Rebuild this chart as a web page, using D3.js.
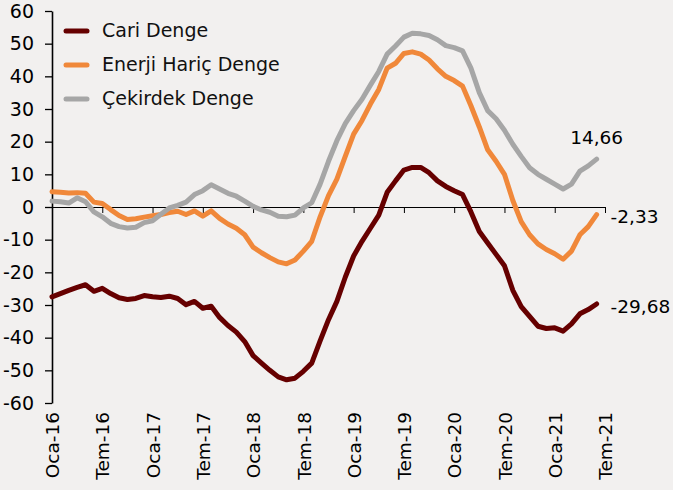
<!DOCTYPE html>
<html>
<head>
<meta charset="utf-8">
<script src="https://cdn.jsdelivr.net/npm/d3@7"></script>
<style>
  html, body { margin: 0; padding: 0; background: #f2f0ef; }
  svg { display: block; font-family: "DejaVu Sans", sans-serif; }
  .axis path, .axis line { stroke: #000; }
  .axis text { fill: #000; font-family: "DejaVu Sans", sans-serif; }
</style>
</head>
<body>
<svg id="grafik" width="673" height="490"></svg>
<script>
// aylik veri: Oca-16 ... Haz-21
const aylar = d3.range(66);

const cariDenge = [
  -27.5, -26.5, -25.5, -24.6, -23.8, -25.8, -24.9, -26.5, -27.8, -28.3, -28.0, -27.1,
  -27.5, -27.7, -27.3, -28.0, -29.9, -28.9, -31.0, -30.4, -33.8, -36.3, -38.3, -41.2,
  -45.5, -47.8, -50.0, -52.0, -52.9, -52.4, -50.3, -47.8, -41.0, -34.5, -28.9, -21.5,
  -15.0, -10.5, -6.5, -2.5, 4.5, 8.0, 11.3, 12.1, 12.1, 10.5, 8.0, 6.3,
  5.0, 3.8, -1.5, -7.5, -11.0, -14.5, -18.0, -25.5, -30.5, -33.5, -36.5, -37.2,
  -37.0, -38.0, -35.8, -32.7, -31.4, -29.68
];

const enerjiHaric = [
  4.7, 4.5, 4.3, 4.4, 4.2, 1.5, 1.1, -0.8, -2.6, -3.8, -3.6, -3.1,
  -2.7, -2.3, -1.7, -1.3, -2.3, -1.2, -2.8, -1.2, -3.5, -5.2, -6.5, -8.5,
  -12.3, -14.0, -15.5, -16.8, -17.4, -16.2, -13.5, -10.5, -3.0, 3.5, 8.5, 15.5,
  22.3, 26.5, 31.5, 36.0, 42.5, 44.0, 47.0, 47.5, 46.8, 45.0, 42.3, 40.0,
  38.7, 37.0, 31.0, 24.5, 17.5, 14.0, 10.0, 2.0, -4.5, -8.5, -11.3, -13.0,
  -14.3, -16.0, -13.5, -8.5, -6.0, -2.33
];

const cekirdek = [
  1.8, 1.6, 1.2, 2.8, 1.6, -1.5, -3.0, -5.0, -6.0, -6.4, -6.2, -4.8,
  -4.2, -2.2, -0.3, 0.5, 1.5, 3.8, 5.0, 6.8, 5.5, 4.2, 3.3, 1.8,
  0.2, -0.9, -1.6, -2.8, -3.0, -2.5, -0.3, 1.3, 7.0, 14.0, 20.3, 25.5,
  29.5, 33.0, 37.3, 41.5, 46.8, 49.3, 52.0, 53.2, 53.0, 52.5, 51.2, 49.4,
  48.8, 47.8, 42.5, 35.0, 29.5, 27.0, 23.5, 19.2, 15.5, 12.0, 10.0, 8.5,
  7.0, 5.5, 7.0, 11.0, 12.6, 14.66
];

const seriAdlari = ["Cari Denge", "Enerji Hariç Denge", "Çekirdek Denge"];
const renkler    = ["#660000", "#f0883a", "#a6a6a6"];

const xEtiketleri = ["Oca-16", "Tem-16", "Oca-17", "Tem-17", "Oca-18", "Tem-18",
                     "Oca-19", "Tem-19", "Oca-20", "Tem-20", "Oca-21", "Tem-21"];
const yTikleri = d3.range(-60, 61, 10);

const seriler = [cariDenge, enerjiHaric, cekirdek];

const svg = d3.select('#grafik');
const kenar = { top: 11, right: 68, bottom: 87, left: 52 };
const ic_w = 673 - kenar.left - kenar.right;
const ic_h = 490 - kenar.top - kenar.bottom;

const g = svg.append('g').attr('transform', `translate(${kenar.left},${kenar.top})`);

const x = d3.scaleLinear().domain([0, 66]).range([0, ic_w]);
const y = d3.scaleLinear().domain([-60, 60]).range([ic_h, 0]);

// sifir cizgisi uzerindeki tikler
g.append('g')
  .attr('class', 'axis')
  .attr('transform', `translate(0,${y(0)})`)
  .call(d3.axisBottom(x).tickValues(d3.range(0, 67, 6)).tickSize(6).tickSizeOuter(0).tickFormat(''))
  .call(a => a.select('.domain').attr('stroke-width', 1.2));

// alttaki etiketler
g.append('g')
  .attr('class', 'axis')
  .attr('transform', `translate(0,${ic_h})`)
  .call(d3.axisBottom(x).tickValues(d3.range(0, 67, 6)).tickSize(0)
          .tickFormat((d, i) => xEtiketleri[i]))
  .call(a => a.select('.domain').remove())
  .selectAll('text')
    .attr('font-size', 18.5)
    .attr('transform', 'rotate(-90)')
    .attr('text-anchor', 'end')
    .attr('x', -9)
    .attr('y', 0)
    .attr('dy', '0.36em');

g.append('g')
  .attr('class', 'axis')
  .call(d3.axisLeft(y).tickValues(yTikleri).tickSize(7).tickPadding(11).tickSizeOuter(0)
          .tickFormat(d => String(d)))
  .call(a => a.select('.domain').attr('stroke-width', 1.6))
  .call(a => a.selectAll('.tick line').attr('stroke-width', 1.3))
  .selectAll('text').attr('font-size', 19);

const cizgi = d3.line()
  .x((d, i) => x(aylar[i]))
  .y(d => y(d));

g.selectAll('path.seri')
  .data(seriler)
  .join('path')
  .attr('class', 'seri')
  .attr('d', cizgi)
  .attr('fill', 'none')
  .attr('stroke', (d, i) => renkler[i])
  .attr('stroke-width', 5)
  .attr('stroke-linejoin', 'round')
  .attr('stroke-linecap', 'round');

// son deger etiketleri
const son = aylar.length - 1;
const fmt = v => v.toFixed(2).replace('.', ',');

g.append('text')
  .attr('x', x(son)).attr('y', y(cekirdek[son]) - 15)
  .attr('text-anchor', 'middle').attr('font-size', 18.5)
  .text(fmt(cekirdek[son]));

g.append('text')
  .attr('x', x(son) + 14).attr('y', y(enerjiHaric[son]) + 8)
  .attr('font-size', 18.5)
  .text(fmt(enerjiHaric[son]));

g.append('text')
  .attr('x', x(son) + 14).attr('y', y(cariDenge[son]) + 9)
  .attr('font-size', 18.5)
  .text(fmt(cariDenge[son]));

// lejant
const lejant = svg.append('g').attr('transform', 'translate(66,37)');
seriAdlari.forEach((ad, i) => {
  const satir = lejant.append('g').attr('transform', `translate(0,${i * 34})`);
  satir.append('line')
    .attr('x1', 0).attr('x2', 21).attr('y1', -6).attr('y2', -6)
    .attr('stroke', renkler[i]).attr('stroke-width', 5).attr('stroke-linecap', 'round');
  satir.append('text')
    .attr('x', 36).attr('y', 0)
    .attr('font-size', 19)
    .attr('fill', '#111')
    .text(ad);
});
</script>
</body>
</html>
